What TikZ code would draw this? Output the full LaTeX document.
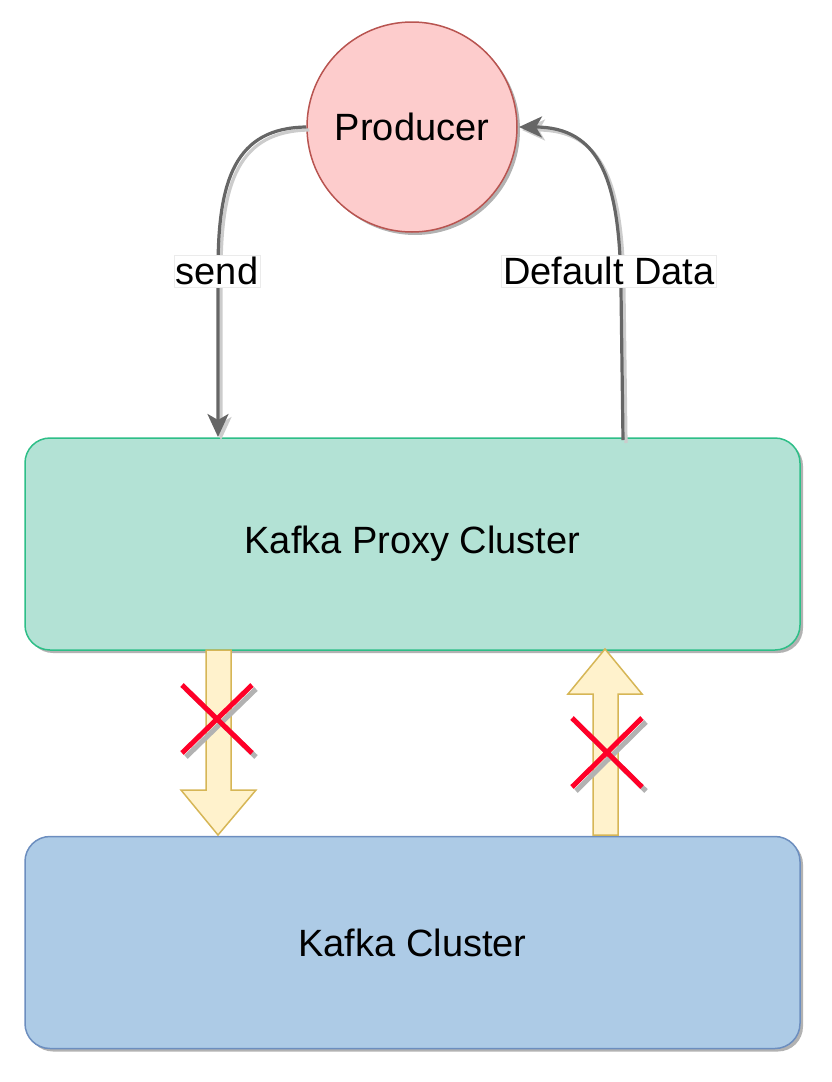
\documentclass[tikz,border=0pt]{standalone}
\usepackage{fontspec}
\setmainfont{Liberation Sans}
\usetikzlibrary{shadows,arrows.meta}
\definecolor{prodfill}{RGB}{253,204,204}
\definecolor{prodline}{RGB}{184,84,80}
\definecolor{proxyfill}{RGB}{179,226,213}
\definecolor{proxyline}{RGB}{45,190,135}
\definecolor{kfill}{RGB}{173,203,230}
\definecolor{kline}{RGB}{108,142,191}
\definecolor{afill}{RGB}{255,242,204}
\definecolor{aline}{RGB}{214,182,86}
\definecolor{conncol}{RGB}{102,102,102}
\definecolor{xred}{RGB}{255,0,40}
\begin{document}
\begin{tikzpicture}[x=1pt,y=-1pt,
  lbl/.style={font=\fontsize{38}{45}\selectfont},
  shad/.style={drop shadow={shadow xshift=3pt,shadow yshift=-3pt,opacity=0.3,fill=black}},
  box/.style={rounded corners=25pt, minimum width=775pt, minimum height=212pt, line width=1.5pt, shad, lbl},
  conn/.style={draw=conncol, line width=3.2pt, -{Stealth[length=23pt,width=21pt,inset=6pt]}},
  connshadow/.style={draw=black!20, line width=3.2pt, -{Stealth[length=23pt,width=21pt,inset=6pt]}, transform canvas={shift={(3pt,-3pt)}}},
  elbl/.style={lbl, fill=white, draw=black!8, line width=0.5pt, inner sep=2pt},
  blk/.style={fill=afill, draw=aline, line width=1.5pt, line join=miter},
  xmark/.style={draw=xred, line width=5pt},
  xshadow/.style={draw=black!30, line width=5pt, transform canvas={shift={(4pt,-4pt)}}}
]
\useasboundingbox (0,0) rectangle (831,1082);

\node[box, fill=proxyfill, draw=proxyline] (proxy) at (412.5,544) {Kafka Proxy Cluster};
\node[box, fill=kfill, draw=kline] (kafka) at (412.5,942.5) {Kafka Cluster};
\node[circle, minimum size=210pt, inner sep=0pt, fill=prodfill, draw=prodline, line width=1.5pt, shad, lbl] (prod) at (412,127) {Producer};

\coordinate (sendend) at (218,437);
\coordinate (ddstart) at (623,440);
\coordinate (prodright) at (519,127);

% send connector
\draw[connshadow] (prod.west) .. controls (235,128) and (218,180) .. (218,270) -- (sendend);
\draw[conn] (prod.west) .. controls (235,128) and (218,180) .. (218,270) -- (sendend);
% default data connector
\draw[connshadow] (ddstart) -- (621,290) .. controls (620,180) and (600,127) .. (prodright);
\draw[conn] (ddstart) -- (621,290) .. controls (620,180) and (600,127) .. (prodright);

\node[elbl] (sendlbl) at (217,271) {send};
\node[elbl] (ddlbl) at (609,271) {Default Data};

% block arrows
\draw[blk] (206,650) -- (231,650) -- (231,790) -- (256,790) -- (218,835) -- (181,790) -- (206,790) -- cycle;
\draw[blk] (593,835) -- (618,835) -- (618,694) -- (642,694) -- (605,649) -- (568,694) -- (593,694) -- cycle;

% X marks
\draw[xshadow] (182,685) -- (252,753) (252,685) -- (182,753);
\draw[xmark] (182,685) -- (252,753) (252,685) -- (182,753);
\draw[xshadow] (572,718) -- (642,787) (642,718) -- (572,787);
\draw[xmark] (572,718) -- (642,787) (642,718) -- (572,787);
\end{tikzpicture}
\end{document}
